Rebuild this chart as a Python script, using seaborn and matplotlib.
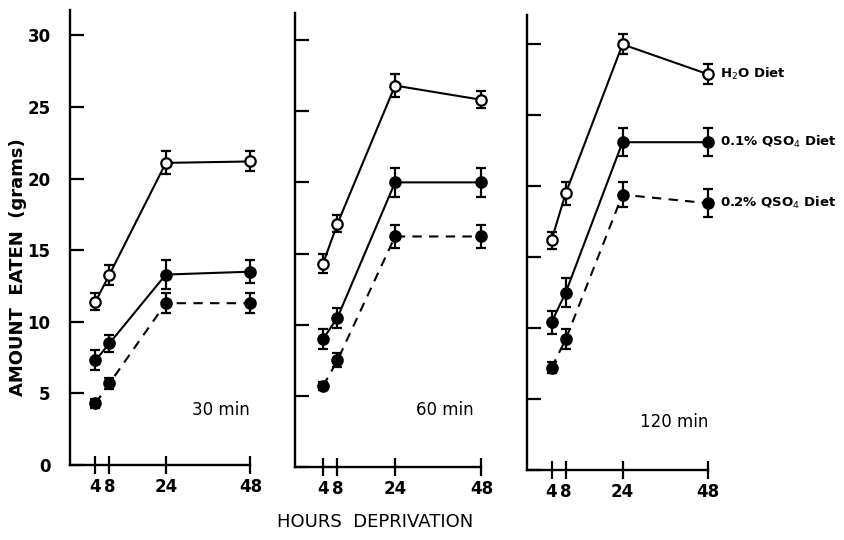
import numpy as np
import pandas as pd
import seaborn as sns
import matplotlib.pyplot as plt

hours = [4, 8, 24, 48]
times = ["30 min", "60 min", "120 min"]
diets = ["H$_2$O Diet", "0.1% QSO$_4$ Diet", "0.2% QSO$_4$ Diet"]

# amount eaten (grams) and error bar half-length, per session length
h2o_30 = [11.4, 13.3, 21.1, 21.2]
h2o_30_err = [0.6, 0.7, 0.8, 0.7]
q01_30 = [7.3, 8.5, 13.3, 13.5]
q01_30_err = [0.7, 0.6, 1.0, 0.8]
q02_30 = [4.3, 5.7, 11.3, 11.3]
q02_30_err = [0.3, 0.4, 0.7, 0.7]

h2o_60 = [14.3, 17.1, 26.8, 25.8]
h2o_60_err = [0.7, 0.6, 0.8, 0.6]
q01_60 = [9.0, 10.5, 20.0, 20.0]
q01_60_err = [0.7, 0.7, 1.0, 1.0]
q02_60 = [5.7, 7.5, 16.2, 16.2]
q02_60_err = [0.3, 0.5, 0.8, 0.8]

h2o_120 = [16.2, 19.5, 30.0, 27.9]
h2o_120_err = [0.6, 0.8, 0.7, 0.7]
q01_120 = [10.4, 12.5, 23.1, 23.1]
q01_120_err = [0.8, 1.0, 1.0, 1.0]
q02_120 = [7.2, 9.2, 19.4, 18.8]
q02_120_err = [0.4, 0.7, 0.9, 1.0]

values = {
    "30 min": [(h2o_30, h2o_30_err), (q01_30, q01_30_err), (q02_30, q02_30_err)],
    "60 min": [(h2o_60, h2o_60_err), (q01_60, q01_60_err), (q02_60, q02_60_err)],
    "120 min": [(h2o_120, h2o_120_err), (q01_120, q01_120_err), (q02_120, q02_120_err)],
}

rows = []
for t in times:
    for diet, (vals, errs) in zip(diets, values[t]):
        for h, v, e in zip(hours, vals, errs):
            rows.append({"time": t, "diet": diet, "hours": h, "eaten": v, "err": e})
df = pd.DataFrame(rows)

sns.set_style("ticks", {"axes.edgecolor": "black", "text.color": "black",
                        "xtick.color": "black", "ytick.color": "black",
                        "axes.labelcolor": "black"})
plt.rcParams['font.family'] = ['DejaVu Sans']

fig = plt.figure(figsize=(8.44, 5.4), dpi=100)

boxes = [(0.083, 0.139, 0.222, 0.843),
         (0.3495, 0.135, 0.2295, 0.841),
         (0.624, 0.130, 0.223, 0.843)]
xlims = [(-3.2, 50), (-3.8, 50), (-3.0, 50)]
ytops = [31.8, 31.9, 32.1]
text_pos = [(39.5, 3.85), (37.9, 4.0), (38.6, 3.4)]

styles = {
    diets[0]: dict(linestyle="-", mfc="white"),
    diets[1]: dict(linestyle="-", mfc="black"),
    diets[2]: dict(linestyle=(0, (4.5, 3.5)), mfc="black"),
}

for i, t in enumerate(times):
    ax = fig.add_axes(boxes[i])
    sub = df[df["time"] == t]
    for diet in diets:
        d = sub[sub["diet"] == diet]
        sns.lineplot(data=d, x="hours", y="eaten", ax=ax, color="black", lw=1.5,
                     marker="o", ms=7.5, mec="black", mew=1.6, errorbar=None,
                     clip_on=False, zorder=3, **styles[diet])
        ax.errorbar(d["hours"], d["eaten"], yerr=d["err"], fmt="none", ecolor="black",
                    elinewidth=1.6, capsize=3.8, capthick=1.6, clip_on=False, zorder=2)
        if i == 2:
            ax.annotate(diet, xy=(48, d["eaten"].iloc[-1]), xytext=(9, 0),
                        textcoords="offset points", va="center", ha="left",
                        fontsize=9.5, fontweight="bold", annotation_clip=False)

    ax.set_xlim(*xlims[i])
    ax.set_ylim(0, ytops[i])
    ax.set_xlabel("")
    ax.set_ylabel("")
    sns.despine(ax=ax)
    for s in ["left", "bottom"]:
        ax.spines[s].set_linewidth(1.7)
    ax.spines["bottom"].set_bounds(xlims[i][0], 48)

    ax.set_xticks(hours)
    ax.set_xticklabels([str(h) for h in hours], fontsize=12, fontweight="bold")
    ax.tick_params(axis="x", direction="inout", length=13, width=1.6, pad=3)
    ax.set_yticks([0, 5, 10, 15, 20, 25, 30])
    ax.tick_params(axis="y", direction="in", length=10, width=1.6, pad=14,
                   labelleft=(i == 0))
    if i == 0:
        ax.set_yticklabels(["0", "5", "10", "15", "20", "25", "30"],
                           fontsize=12, fontweight="bold")

    ax.text(text_pos[i][0], text_pos[i][1], t, ha="center", va="center",
            fontsize=12, fontweight="medium")

fig.text(0.021, 0.505, "AMOUNT  EATEN  (grams)", rotation=90, ha="center",
         va="center", fontsize=13, fontweight="bold")
fig.text(0.444, 0.033, "HOURS  DEPRIVATION", ha="center",
         va="center", fontsize=13)

fig.savefig("out.png", dpi=100)
